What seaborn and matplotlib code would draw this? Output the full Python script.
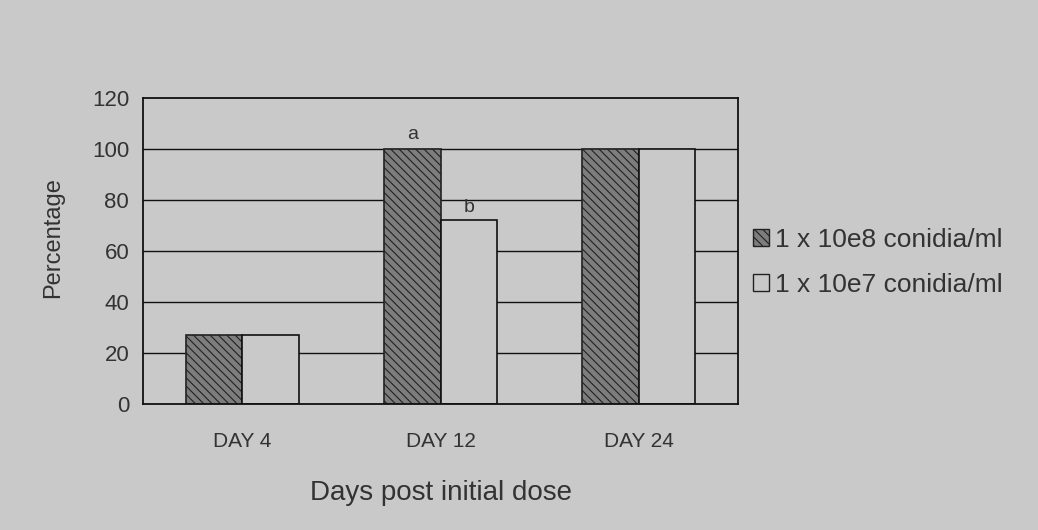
import pandas as pd
import matplotlib.pyplot as plt
import seaborn as sns
from matplotlib.patches import Patch

# values
days = ['DAY 4', 'DAY 12', 'DAY 24']
high_dose = [27, 100, 100]
low_dose = [27, 72, 100]
doses = ['1 x 10e8 conidia/ml', '1 x 10e7 conidia/ml']
letters = ['a', 'b']

df = pd.DataFrame({
  'Day': days * 2,
  'Dose': [doses[0]] * 3 + [doses[1]] * 3,
  'Percentage': high_dose + low_dose,
})

bg = '#c9c9c9'
sns.set_style('white')
plt.rcParams['font.family'] = ['Liberation Sans', 'DejaVu Sans']
plt.rcParams['hatch.linewidth'] = 0.8

fig = plt.figure(figsize=(10.38, 5.30), dpi=100, facecolor=bg)
ax = fig.add_axes([0.1378, 0.2377, 0.5732, 0.5774])
ax.set_facecolor(bg)

# gridlines behind the bars
for y in [20, 40, 60, 80, 100]:
  ax.axhline(y, color='#111111', lw=1.0, zorder=0)

sns.barplot(data=df, x='Day', y='Percentage', hue='Dose', order=days, hue_order=doses,
            palette=['#7d7d7d', bg], width=0.57, ax=ax, legend=False,
            edgecolor='#111111', linewidth=1.2, zorder=2)

# hatch the dark bars
for bar in ax.patches[:3]:
  bar.set_hatch('\\\\\\\\')
  bar.set_edgecolor('#222222')

ax.set_ylim(0, 120)
ax.set_xlim(-0.5, 2.5)
ax.set_yticks(range(0, 121, 20))
ax.tick_params(axis='both', length=0, labelcolor='#333333')
ax.tick_params(axis='x', pad=20, labelsize=15)
ax.tick_params(axis='y', pad=10, labelsize=16)
for s in ax.spines.values():
  s.set_color('#111111')
  s.set_linewidth(1.3)

ax.set_ylabel('Percentage', fontsize=17, color='#333333')
ax.yaxis.set_label_coords(-0.133, 0.545)
ax.set_xlabel('Days post initial dose', fontsize=20, color='#333333', labelpad=21)

# significance letters on DAY 12
w = 0.57 / 2
ax.text(1 - w / 2, 105.5, letters[0], ha='center', va='center', fontsize=14, color='#333333')
ax.text(1 + w / 2, 77, letters[1], ha='center', va='center', fontsize=14, color='#333333')

handles = [Patch(facecolor='#7d7d7d', edgecolor='#222222', hatch='\\\\\\\\'),
           Patch(facecolor=bg, edgecolor='#222222')]
fig.legend(handles, doses, loc='center left', bbox_to_anchor=(0.703, 0.505), frameon=False,
           fontsize=19, handlelength=0.6, handleheight=0.6, handletextpad=0.2,
           labelspacing=0.8, labelcolor='#333333')

fig.savefig('out.png', dpi=100, facecolor=bg)
